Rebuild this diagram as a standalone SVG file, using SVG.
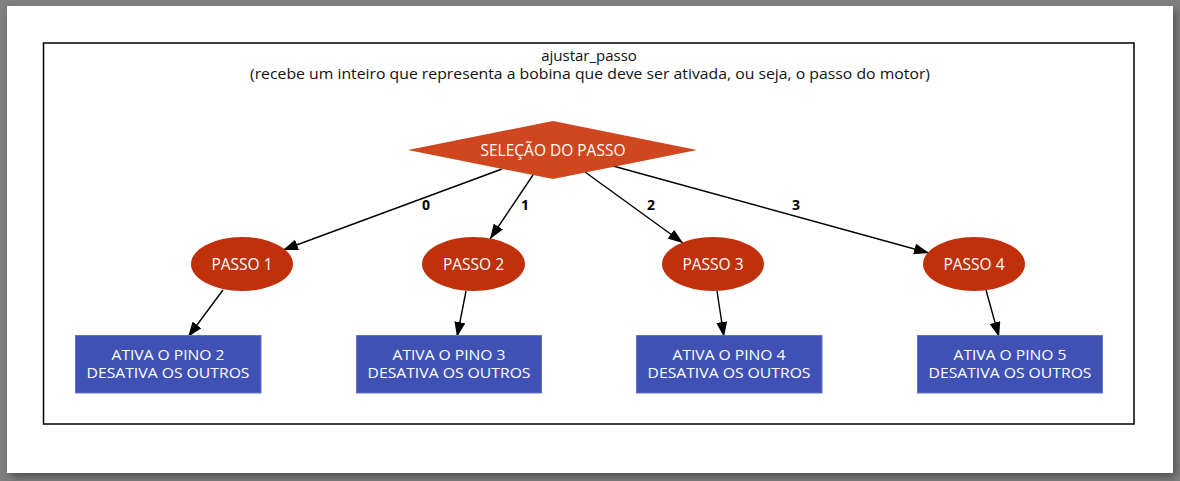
<svg xmlns="http://www.w3.org/2000/svg" width="1180" height="481" viewBox="0 0 1180 481">
<defs>
<style>
.node text{font-family:"Open Sans","Liberation Sans",sans-serif;font-size:15.5px;fill:#fff;text-anchor:middle}
.node text.two{font-size:15px}
.ell{fill:#c0300a}
.box{fill:#3f51b5;stroke:#6272c8;stroke-width:1}
.edge{stroke:#000;stroke-width:1.4;fill:none;marker-end:url(#arr)}
.lbl{font-family:"Open Sans","Liberation Sans",sans-serif;font-size:14px;font-weight:bold;fill:#000;text-anchor:middle}
.title{font-family:"Open Sans","Liberation Sans",sans-serif;font-size:15px;fill:#111;text-anchor:middle}
</style>
<marker id="arr" markerUnits="userSpaceOnUse" markerWidth="15" markerHeight="11" refX="15" refY="5.5" orient="auto">
<path d="M0,0 L15,5.5 L0,11 z" fill="#000"/>
</marker>
<filter id="sh" x="-5%" y="-5%" width="110%" height="115%">
<feGaussianBlur stdDeviation="4"/>
</filter>
</defs>
<rect x="0" y="0" width="1180" height="481" fill="#808080"/>
<rect x="10" y="10" width="1166" height="467" fill="#333" filter="url(#sh)" opacity="0.6"/>
<rect x="7" y="6" width="1166" height="467" fill="#fff"/>
<rect x="43.5" y="43" width="1090.5" height="381" fill="#fff" stroke="#000" stroke-width="1.5"/>
<text class="title" x="589" y="61">ajustar_passo</text>
<text class="title" x="590" y="79" textLength="680" lengthAdjust="spacingAndGlyphs">(recebe um inteiro que representa a bobina que deve ser ativada, ou seja, o passo do motor)</text>
<g id="edges">
<path class="edge" d="M502,169 L283,250"/>
<path class="edge" d="M533,175 L490,239"/>
<path class="edge" d="M585,172 L683,243"/>
<path class="edge" d="M613,166 L929,253"/>
<path class="edge" d="M223,290 L188,337"/>
<path class="edge" d="M466,291 L457,337"/>
<path class="edge" d="M717,291 L724,337"/>
<path class="edge" d="M986,290 L999,337"/>
<text class="lbl" x="426" y="210">0</text>
<text class="lbl" x="525" y="210">1</text>
<text class="lbl" x="651" y="210">2</text>
<text class="lbl" x="796" y="210">3</text>
</g>
<g id="selecao" class="node">
<polygon points="408,150 553,121 697,150 553,179" fill="#d0461e"/>
<text x="553" y="155.5">SELEÇÃO DO PASSO</text>
</g>
<g id="passo1" class="node"><ellipse class="ell" cx="242" cy="264" rx="51" ry="27"/><text x="242" y="269.5">PASSO 1</text></g>
<g id="passo2" class="node"><ellipse class="ell" cx="473.5" cy="264" rx="51.5" ry="27"/><text x="473.5" y="269.5">PASSO 2</text></g>
<g id="passo3" class="node"><ellipse class="ell" cx="713" cy="264" rx="51" ry="27"/><text x="713" y="269.5">PASSO 3</text></g>
<g id="passo4" class="node"><ellipse class="ell" cx="974" cy="264" rx="51" ry="27"/><text x="974" y="269.5">PASSO 4</text></g>
<g id="pino2" class="node"><rect class="box" x="75.5" y="335.5" width="185.5" height="57.5"/><text class="two" x="168" y="359.5"><tspan textLength="113" lengthAdjust="spacingAndGlyphs">ATIVA O PINO 2</tspan><tspan x="168" dy="18" textLength="163" lengthAdjust="spacingAndGlyphs">DESATIVA OS OUTROS</tspan></text></g>
<g id="pino3" class="node"><rect class="box" x="356.5" y="335.5" width="185" height="57.5"/><text class="two" x="449" y="359.5"><tspan textLength="113" lengthAdjust="spacingAndGlyphs">ATIVA O PINO 3</tspan><tspan x="449" dy="18" textLength="163" lengthAdjust="spacingAndGlyphs">DESATIVA OS OUTROS</tspan></text></g>
<g id="pino4" class="node"><rect class="box" x="636.5" y="335.5" width="185.5" height="57.5"/><text class="two" x="729" y="359.5"><tspan textLength="113" lengthAdjust="spacingAndGlyphs">ATIVA O PINO 4</tspan><tspan x="729" dy="18" textLength="163" lengthAdjust="spacingAndGlyphs">DESATIVA OS OUTROS</tspan></text></g>
<g id="pino5" class="node"><rect class="box" x="917.5" y="335.5" width="185" height="57.5"/><text class="two" x="1010" y="359.5"><tspan textLength="113" lengthAdjust="spacingAndGlyphs">ATIVA O PINO 5</tspan><tspan x="1010" dy="18" textLength="163" lengthAdjust="spacingAndGlyphs">DESATIVA OS OUTROS</tspan></text></g>
</svg>
